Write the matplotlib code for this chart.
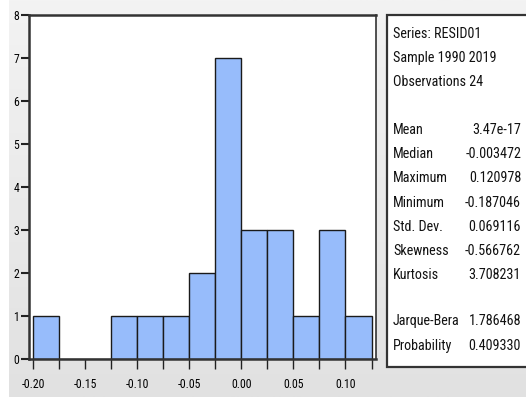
import matplotlib
matplotlib.use("Agg")
import matplotlib.pyplot as plt
from matplotlib import font_manager
from matplotlib.colors import LinearSegmentedColormap
import numpy as np

# residual histogram, bin width 0.025
bin_edges = [-0.200, -0.175, -0.150, -0.125, -0.100, -0.075, -0.050,
             -0.025, 0.000, 0.025, 0.050, 0.075, 0.100, 0.125]
counts = [1, 0, 0, 1, 1, 1, 2, 7, 3, 3, 1, 3, 1]
xtick_vals = [-0.20, -0.15, -0.10, -0.05, 0.00, 0.05, 0.10]
ytick_vals = [0, 1, 2, 3, 4, 5, 6, 7, 8]

stat_header = ["Series: RESID01", "Sample 1990 2019", "Observations 24"]
stat_names = ["Mean", "Median", "Maximum", "Minimum", "Std. Dev.",
              "Skewness", "Kurtosis"]
stat_values = ["3.47e-17", "-0.003472", "0.120978", "-0.187046",
               "0.069116", "-0.566762", "3.708231"]
test_names = ["Jarque-Bera", "Probability"]
test_values = ["1.786468", "0.409330"]

# narrow sans if one is around, plain Liberation Sans otherwise
names = {f.name for f in font_manager.fontManager.ttflist}
narrow = "Liberation Sans"
for cand in ["Liberation Sans Narrow", "Arial Narrow", "Roboto Condensed",
             "PT Sans Narrow", "Archivo Narrow", "Open Sans Condensed",
             "Fira Sans Condensed", "IBM Plex Sans Condensed"]:
    if cand in names:
        narrow = cand
        break
plt.rcParams["font.family"] = [narrow, "DejaVu Sans"]
plt.rcParams["axes.unicode_minus"] = False
shrink = 1.0 if narrow != "Liberation Sans" else 0.85

W, H = 526, 397
fig = plt.figure(figsize=(W / 100, H / 100), dpi=100, facecolor="white")

# window background: soft grey gradient, lighter at the top
bg = fig.add_axes([9 / W, 0, 1 - 9 / W, 1], zorder=-10)
grad = LinearSegmentedColormap.from_list("bg", ["#f3f3f3", "#e1e1e1"])
bg.imshow(np.linspace(0, 1, 256).reshape(-1, 1), aspect="auto", cmap=grad,
          extent=[0, 1, 0, 1], origin="upper")
bg.set_axis_off()

ax = fig.add_axes([29 / W, 1 - 359 / H, (376 - 29) / W, (359 - 15) / H])
ax.set_facecolor("white")
widths = np.diff(bin_edges)
ax.bar(bin_edges[:-1], counts, width=widths, align="edge",
       color="#97bcfb", edgecolor="#1a1a1a", linewidth=1.0)
ax.set_xlim(-0.2038, 0.1293)
ax.set_ylim(0, 8)

ax.set_xticks(bin_edges, minor=True)
ax.set_xticks(xtick_vals)
ax.set_xticklabels([f"{v:.2f}" for v in xtick_vals])
ax.set_yticks(ytick_vals)
ax.tick_params(axis="x", which="both", direction="out", length=7, width=1.0,
               color="#222222", labelsize=8.5 * shrink, pad=7)
ax.tick_params(axis="y", direction="out", length=5.5, width=1.5,
               color="#222222", labelsize=8.5 * shrink, pad=1.5)

for side in ["left", "top", "bottom"]:
    ax.spines[side].set_linewidth(1.8)
    ax.spines[side].set_color("#333333")
ax.spines["right"].set_linewidth(1.2)
ax.spines["right"].set_color("#333333")

# statistics panel
box = plt.Rectangle((387 / W, 1 - 367 / H), (530 - 387) / W, (367 - 15) / H,
                    transform=fig.transFigure, facecolor="white",
                    edgecolor="#333333", linewidth=1.6)
fig.patches.append(box)

lx, rx = 393 / W, 521 / W
fs = 10.2 * shrink
y = 34
for s in stat_header:
    fig.text(lx, 1 - y / H, s, fontsize=fs, va="center", ha="left", color="#111111")
    y += 24
y = 130
for n, v in zip(stat_names, stat_values):
    fig.text(lx, 1 - y / H, n, fontsize=fs, va="center", ha="left", color="#111111")
    fig.text(rx, 1 - y / H, v, fontsize=fs, va="center", ha="right", color="#111111")
    y += 24.2
y = 321
for n, v in zip(test_names, test_values):
    fig.text(lx, 1 - y / H, n, fontsize=fs, va="center", ha="left", color="#111111")
    fig.text(rx, 1 - y / H, v, fontsize=fs, va="center", ha="right", color="#111111")
    y += 25

fig.savefig("out.png", dpi=100, facecolor=fig.get_facecolor())
